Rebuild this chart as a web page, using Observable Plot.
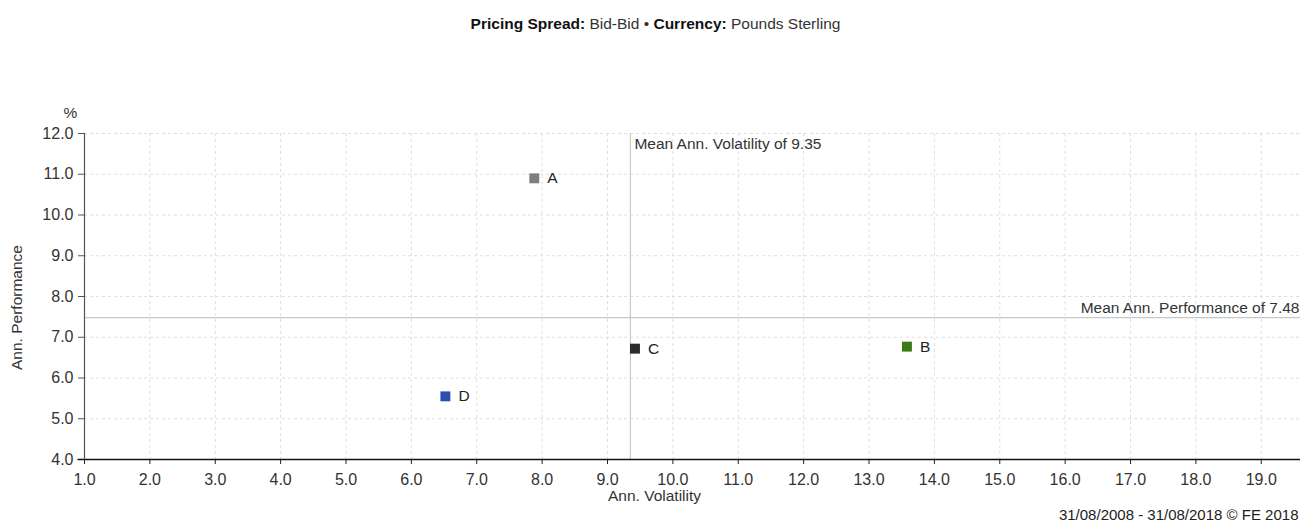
<!DOCTYPE html>
<html>
<head>
<meta charset="utf-8">
<script src="https://cdn.jsdelivr.net/npm/d3@7"></script>
<script src="https://cdn.jsdelivr.net/npm/@observablehq/plot@0.6"></script>
<style>
  html, body { margin: 0; padding: 0; background: #fff; }
  body { width: 1311px; height: 523px; overflow: hidden; font-family: "Liberation Sans", Arial, sans-serif; }
  #title { height: 45px; line-height: 47px; text-align: center; font-size: 15.5px; color: #333; }
  #title b { font-weight: bold; color: #111; }
</style>
</head>
<body>
<div id="title"><b>Pricing Spread:</b> Bid-Bid &#8226; <b>Currency:</b> Pounds Sterling</div>
<div id="chart"></div>
<script>
const names = ["A", "B", "C", "D"];
const volatility = [7.88, 13.58, 9.42, 6.52];
const performance = [10.90, 6.77, 6.72, 5.55];
const colors = ["#7f7f7f", "#3d7a17", "#2b2b2b", "#2a4db3"];
const meanVolatility = 9.35;
const meanPerformance = 7.48;
const xTicks = d3.range(1, 20);
const yTicks = d3.range(4, 13);
const footer = "31/08/2008 - 31/08/2018 \u00A9 FE 2018";

const data = names.map((n, i) => ({name: n, x: volatility[i], y: performance[i], color: colors[i]}));

const font = "Liberation Sans, Arial, sans-serif";
const fs = 15.5;
const chart = Plot.plot({
  width: 1311,
  height: 478,
  marginTop: 88,
  marginBottom: 64,
  marginLeft: 84,
  marginRight: 11,
  style: {fontFamily: font, fontSize: "16px", color: "#333", background: "#fff", overflow: "visible"},
  x: {domain: [1, 19.6]},
  y: {domain: [4, 12]},
  marks: [
    Plot.gridX(xTicks, {stroke: "#dedede", strokeOpacity: 1, strokeDasharray: "3,3"}),
    Plot.gridY(yTicks, {stroke: "#dedede", strokeOpacity: 1, strokeDasharray: "3,3"}),
    Plot.ruleX([meanVolatility], {stroke: "#c8c8c8", strokeWidth: 1.2}),
    Plot.ruleY([meanPerformance], {stroke: "#c8c8c8", strokeWidth: 1.2}),
    Plot.axisX(xTicks, {tickFormat: d3.format(".1f"), tickSize: 5, tickPadding: 9, label: null, fill: "#333", stroke: "#222", fontSize: 16}),
    Plot.axisY(yTicks, {tickFormat: d3.format(".1f"), tickSize: 6, tickPadding: 5, label: null, fill: "#333", stroke: "#555", fontSize: 16}),
    Plot.ruleY([4], {x1: 0.9, x2: 19.6, stroke: "#111", strokeWidth: 1.5}),
    Plot.ruleX([1], {stroke: "#555", strokeWidth: 1.2}),
    Plot.dot(data, {x: "x", y: "y", symbol: "square", r: 5.6, fill: d => d.color, stroke: null}),
    Plot.text(data, {x: "x", y: "y", text: "name", textAnchor: "start", dx: 13, dy: 0, fill: "#222", fontSize: fs}),
    Plot.text([meanVolatility], {x: d => d, text: d => `Mean Ann. Volatility of ${d.toFixed(2)}`, frameAnchor: "top", lineAnchor: "middle", textAnchor: "start", dx: 4, dy: 11, fill: "#333", fontSize: fs}),
    Plot.text([meanPerformance], {y: d => d, text: d => `Mean Ann. Performance of ${d.toFixed(2)}`, frameAnchor: "right", lineAnchor: "middle", textAnchor: "end", dx: -1, dy: -10, fill: "#333", fontSize: fs}),
    Plot.text(["Ann. Volatility"], {frameAnchor: "bottom", lineAnchor: "middle", dx: -38, dy: 37, fill: "#333", fontSize: fs}),
    Plot.text(["Ann. Performance"], {frameAnchor: "left", textAnchor: "middle", lineAnchor: "middle", rotate: -90, dx: -67, dy: 11, fill: "#333", fontSize: fs}),
    Plot.text(["%"], {frameAnchor: "top-left", textAnchor: "middle", lineAnchor: "middle", dx: -14, dy: -20, fill: "#333", fontSize: fs}),
    Plot.text([footer], {frameAnchor: "bottom-right", textAnchor: "end", lineAnchor: "middle", dx: -2, dy: 56, fill: "#222", fontSize: 15})
  ]
});
document.getElementById("chart").appendChild(chart);
</script>
</body>
</html>
